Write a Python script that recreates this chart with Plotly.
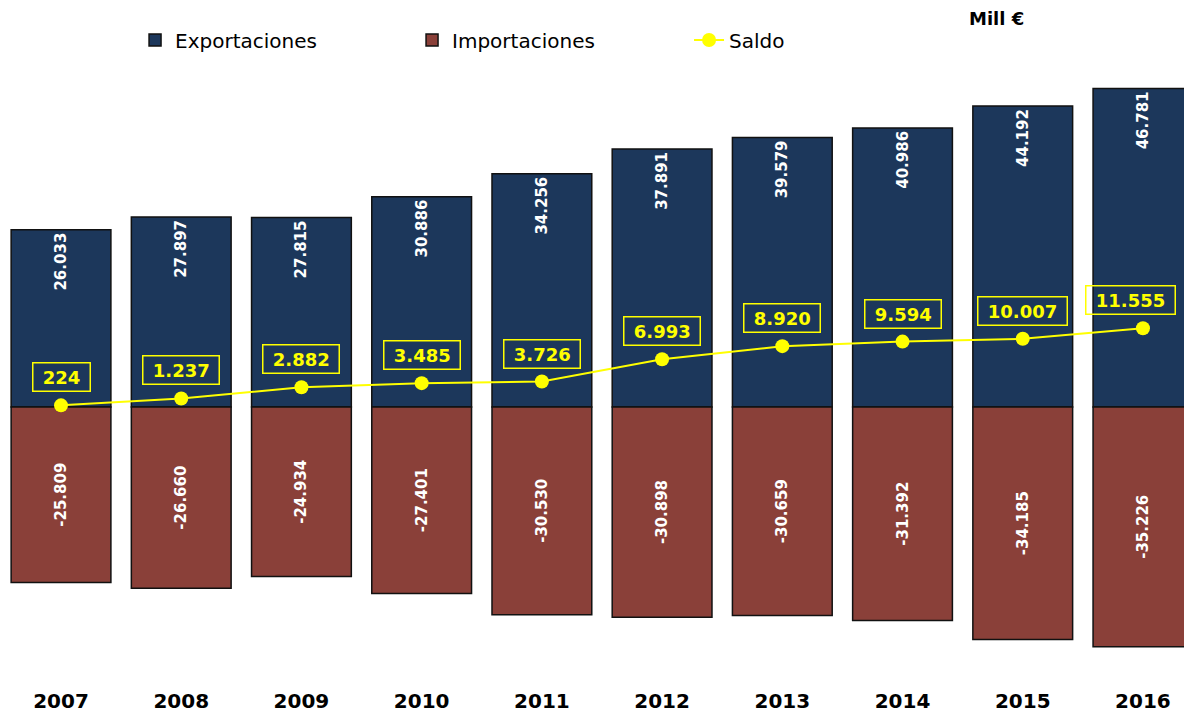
import plotly.graph_objects as go

years = ["2007", "2008", "2009", "2010", "2011", "2012", "2013", "2014", "2015", "2016"]
exportaciones = [26033, 27897, 27815, 30886, 34256, 37891, 39579, 40986, 44192, 46781]
importaciones = [-25809, -26660, -24934, -27401, -30530, -30898, -30659, -31392, -34185, -35226]
saldo = [224, 1237, 2882, 3485, 3726, 6993, 8920, 9594, 10007, 11555]

NAVY = "#1C375B"
BROWN = "#8A4039"
YELLOW = "#FFFF00"
FONT = "DejaVu Sans"

def fmt(v):
    return f"{v:,}".replace(",", ".")

fig = go.Figure()
fig.add_trace(go.Bar(
    x=years, y=exportaciones, name="Exportaciones", width=0.83,
    marker=dict(color=NAVY, line=dict(color="#111111", width=1.5)),
    text=[fmt(v) for v in exportaciones], textposition="inside",
    insidetextanchor="end", textangle=-90,
    textfont=dict(family=FONT, size=15, color="white", weight="bold"),
))
fig.add_trace(go.Bar(
    x=years, y=importaciones, name="Importaciones", width=0.83,
    marker=dict(color=BROWN, line=dict(color="#111111", width=1.5)),
    text=[fmt(v) for v in importaciones], textposition="inside",
    insidetextanchor="middle", textangle=-90,
    textfont=dict(family=FONT, size=15, color="white", weight="bold"),
))
fig.add_trace(go.Scatter(
    x=years, y=saldo, name="Saldo", mode="lines+markers",
    line=dict(color=YELLOW, width=2),
    marker=dict(color=YELLOW, size=14),
))

last = len(saldo) - 1
for i, s in enumerate(saldo):
    fig.add_annotation(
        x=i, y=s, text="&nbsp;" + fmt(s) + "&nbsp;", showarrow=False, yshift=28,
        xshift=-12 if i == last else 0,
        font=dict(family=FONT, size=18, color=YELLOW, weight="bold"),
        bordercolor=YELLOW, borderwidth=1.5, borderpad=3,
    )

fig.add_annotation(
    xref="paper", yref="paper", x=0.835, y=1.0667, xanchor="center", yanchor="middle",
    text="Mill €", showarrow=False,
    font=dict(family=FONT, size=18, color="black", weight="bold"),
)

fig.update_layout(
    width=1184, height=705, autosize=False,
    margin=dict(l=0, r=0, t=52, b=23),
    paper_bgcolor="white", plot_bgcolor="white",
    barmode="relative", separators=",.",
    showlegend=True,
    legend=dict(orientation="h", x=0.1073, y=1.032, xanchor="left", yanchor="middle",
                font=dict(family=FONT, size=20, color="black"),
                entrywidth=232, entrywidthmode="pixels", bgcolor="rgba(0,0,0,0)"),
    xaxis=dict(type="category", range=[-0.441, 9.408], showgrid=False, showline=False,
               zeroline=False, ticks="",
               tickfont=dict(family=FONT, size=20, color="black", weight="bold")),
    yaxis=dict(range=[-41150, 50960], showgrid=False, showline=False, zeroline=False,
               showticklabels=False, ticks=""),
)

fig.write_html("out.html")
